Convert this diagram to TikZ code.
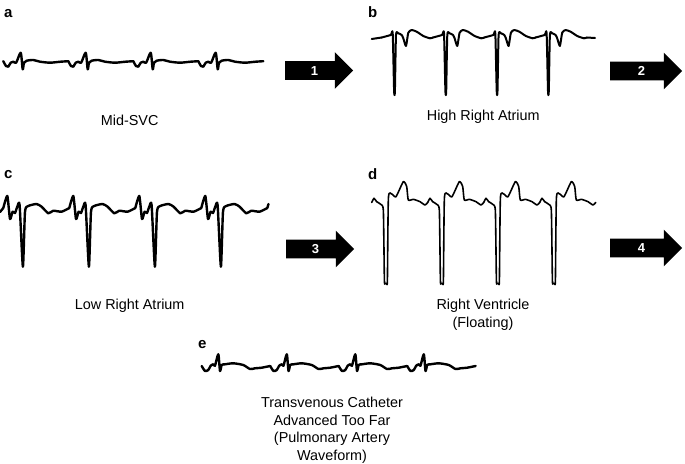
\documentclass[tikz,border=0pt]{standalone}
\usepackage{fontspec}
\setmainfont{Liberation Sans}
\usepackage{tikz}
\usetikzlibrary{positioning, shapes.arrows}
\tikzstyle{trace}  =
[
	line width=2.4pt, line join=round, line cap=round
]
\tikzstyle{stepArrow} =
[
	single arrow, fill=black, text=white,
	single arrow tip angle=90, single arrow head extend=9pt,
	inner xsep=0pt, inner ysep=4.6pt, text height=9.3pt, text depth=0pt,
	font=\fontsize{13}{13}\selectfont\bfseries, anchor=tail
]
\tikzstyle{panelTag} = [inner sep=0pt, anchor=base west, font=\fontsize{15}{15}\selectfont\bfseries]
\tikzstyle{caption} = [inner sep=0pt, anchor=base, align=center, font=\fontsize{14.4}{17.8}\selectfont]

\begin{document}
\begin{tikzpicture}[x=1pt, y=-1pt]
\useasboundingbox (0,0) rectangle (685,463);

% panel tags
\node[panelTag] (tagA) at (4,17.3)    {a};
\node[panelTag] (tagB) at (368,17.3)  {b};
\node[panelTag] (tagC) at (4,178.3)   {c};
\node[panelTag] (tagD) at (368,179.3) {d};
\node[panelTag] (tagE) at (198,348.3) {e};

% (a) mid-SVC
\foreach \s in {20.7, 85.7, 150.7, 215.7}
	\draw[trace, xshift=\s pt] plot[smooth, tension=0.4] coordinates {(-17.4,61.2) (-14.7,66) (-12.4,66.7) (-10,62.7) (-7.4,61.7) (-4.5,62.7) (0,52.7) (2,69.3) (3.3,62.7) (6,60.7) (12.6,60) (19.3,61.7) (29.3,62.7) (40,61.7) (47.6,61.2)};

% (b) high right atrium
\draw[trace, line width=2pt] (371.7,39) -- (381.7,37.5);
\foreach \p in {394.5, 445.8, 497.1, 548.4}
	\draw[trace, line width=2pt, xshift=\p pt] plot[smooth, tension=0.35] coordinates {(-12.8,37.5) (-3.8,35) (-1.8,33.3) (-0.4,91) (0.4,91) (1.5,35) (3.8,33.3) (7.2,35) (8.8,38.3) (11.5,46) (13.8,32.7) (17.2,30) (22.2,31.7) (28.8,36) (35.5,38.3) (38.5,37.5)};
\draw[trace, line width=2pt] (586.9,37.5) -- (595,38);

% (c) low right atrium
\draw[trace] (0,212) -- (3.3,208);
\foreach \s in {7.3, 73.3, 139.3, 205.3}
	\draw[trace, xshift=\s pt] plot[smooth, tension=0.35] coordinates {(-4,208) (0,196) (2.7,219) (5.3,211.7) (7.7,213) (10,206.7) (12.3,205) (15.6,266.7) (17.7,211.7) (21,206) (29.3,204) (34.3,206.7) (41,213.3) (46,210.7) (54.3,211.7) (62,208)};
\draw[trace] (267.3,208) -- (268.5,204);

% (d) right ventricle
\foreach \p in {384, 440, 496, 552}
	\draw[trace, line width=1.6pt, xshift=\p pt] plot[smooth, tension=0.35] coordinates {(-12.3,202.5) (-10,198.3) (-7.3,201.7) (-2.3,205) (-0.6,212) (0.4,280) (1.2,283.3) (2.6,283.3) (3.4,280) (4.4,198) (7.7,194) (12,196.7) (19.3,181.7) (22.7,186.7) (24.3,200) (29.3,199.3) (36,201.7) (41,205) (43.7,202.5)};

% (e) pulmonary artery
\foreach \s in {218.3, 286.8, 355.3, 423.8}
	\draw[trace, xshift=\s pt] plot[smooth, tension=0.4] coordinates {(-16.6,366) (-13.3,371) (-10,370) (-7.6,365.7) (-5,364.3) (-3.3,365.7) (0,354.3) (1.7,371) (3.4,365) (6.7,364.3) (15,363.3) (25,365) (31.7,369) (36.7,368.3) (43.4,367.7) (48.4,366.7) (51.8,366)};

% step arrows
\node[stepArrow, minimum height=68pt] (step1) at (285,70.5) {1};
\node[stepArrow, minimum height=72pt] (step2) at (610,71)   {2};
\node[stepArrow, minimum height=68pt] (step3) at (286,249)  {3};
\node[stepArrow, minimum height=72pt] (step4) at (610,248)  {4};

% captions (base = last line)
\node[caption] (capA) at (129.7,125)   {Mid-SVC};
\node[caption] (capB) at (483.3,120.7) {High Right Atrium};
\node[caption] (capC) at (129.7,309.3) {Low Right Atrium};
\node[caption] (capD) at (483,327.1)   {Right Ventricle\\(Floating)};
\node[caption] (capE) at (332,460.7)   {Transvenous Catheter\\Advanced Too Far\\(Pulmonary Artery\\Waveform)};

\end{tikzpicture}
\end{document}
